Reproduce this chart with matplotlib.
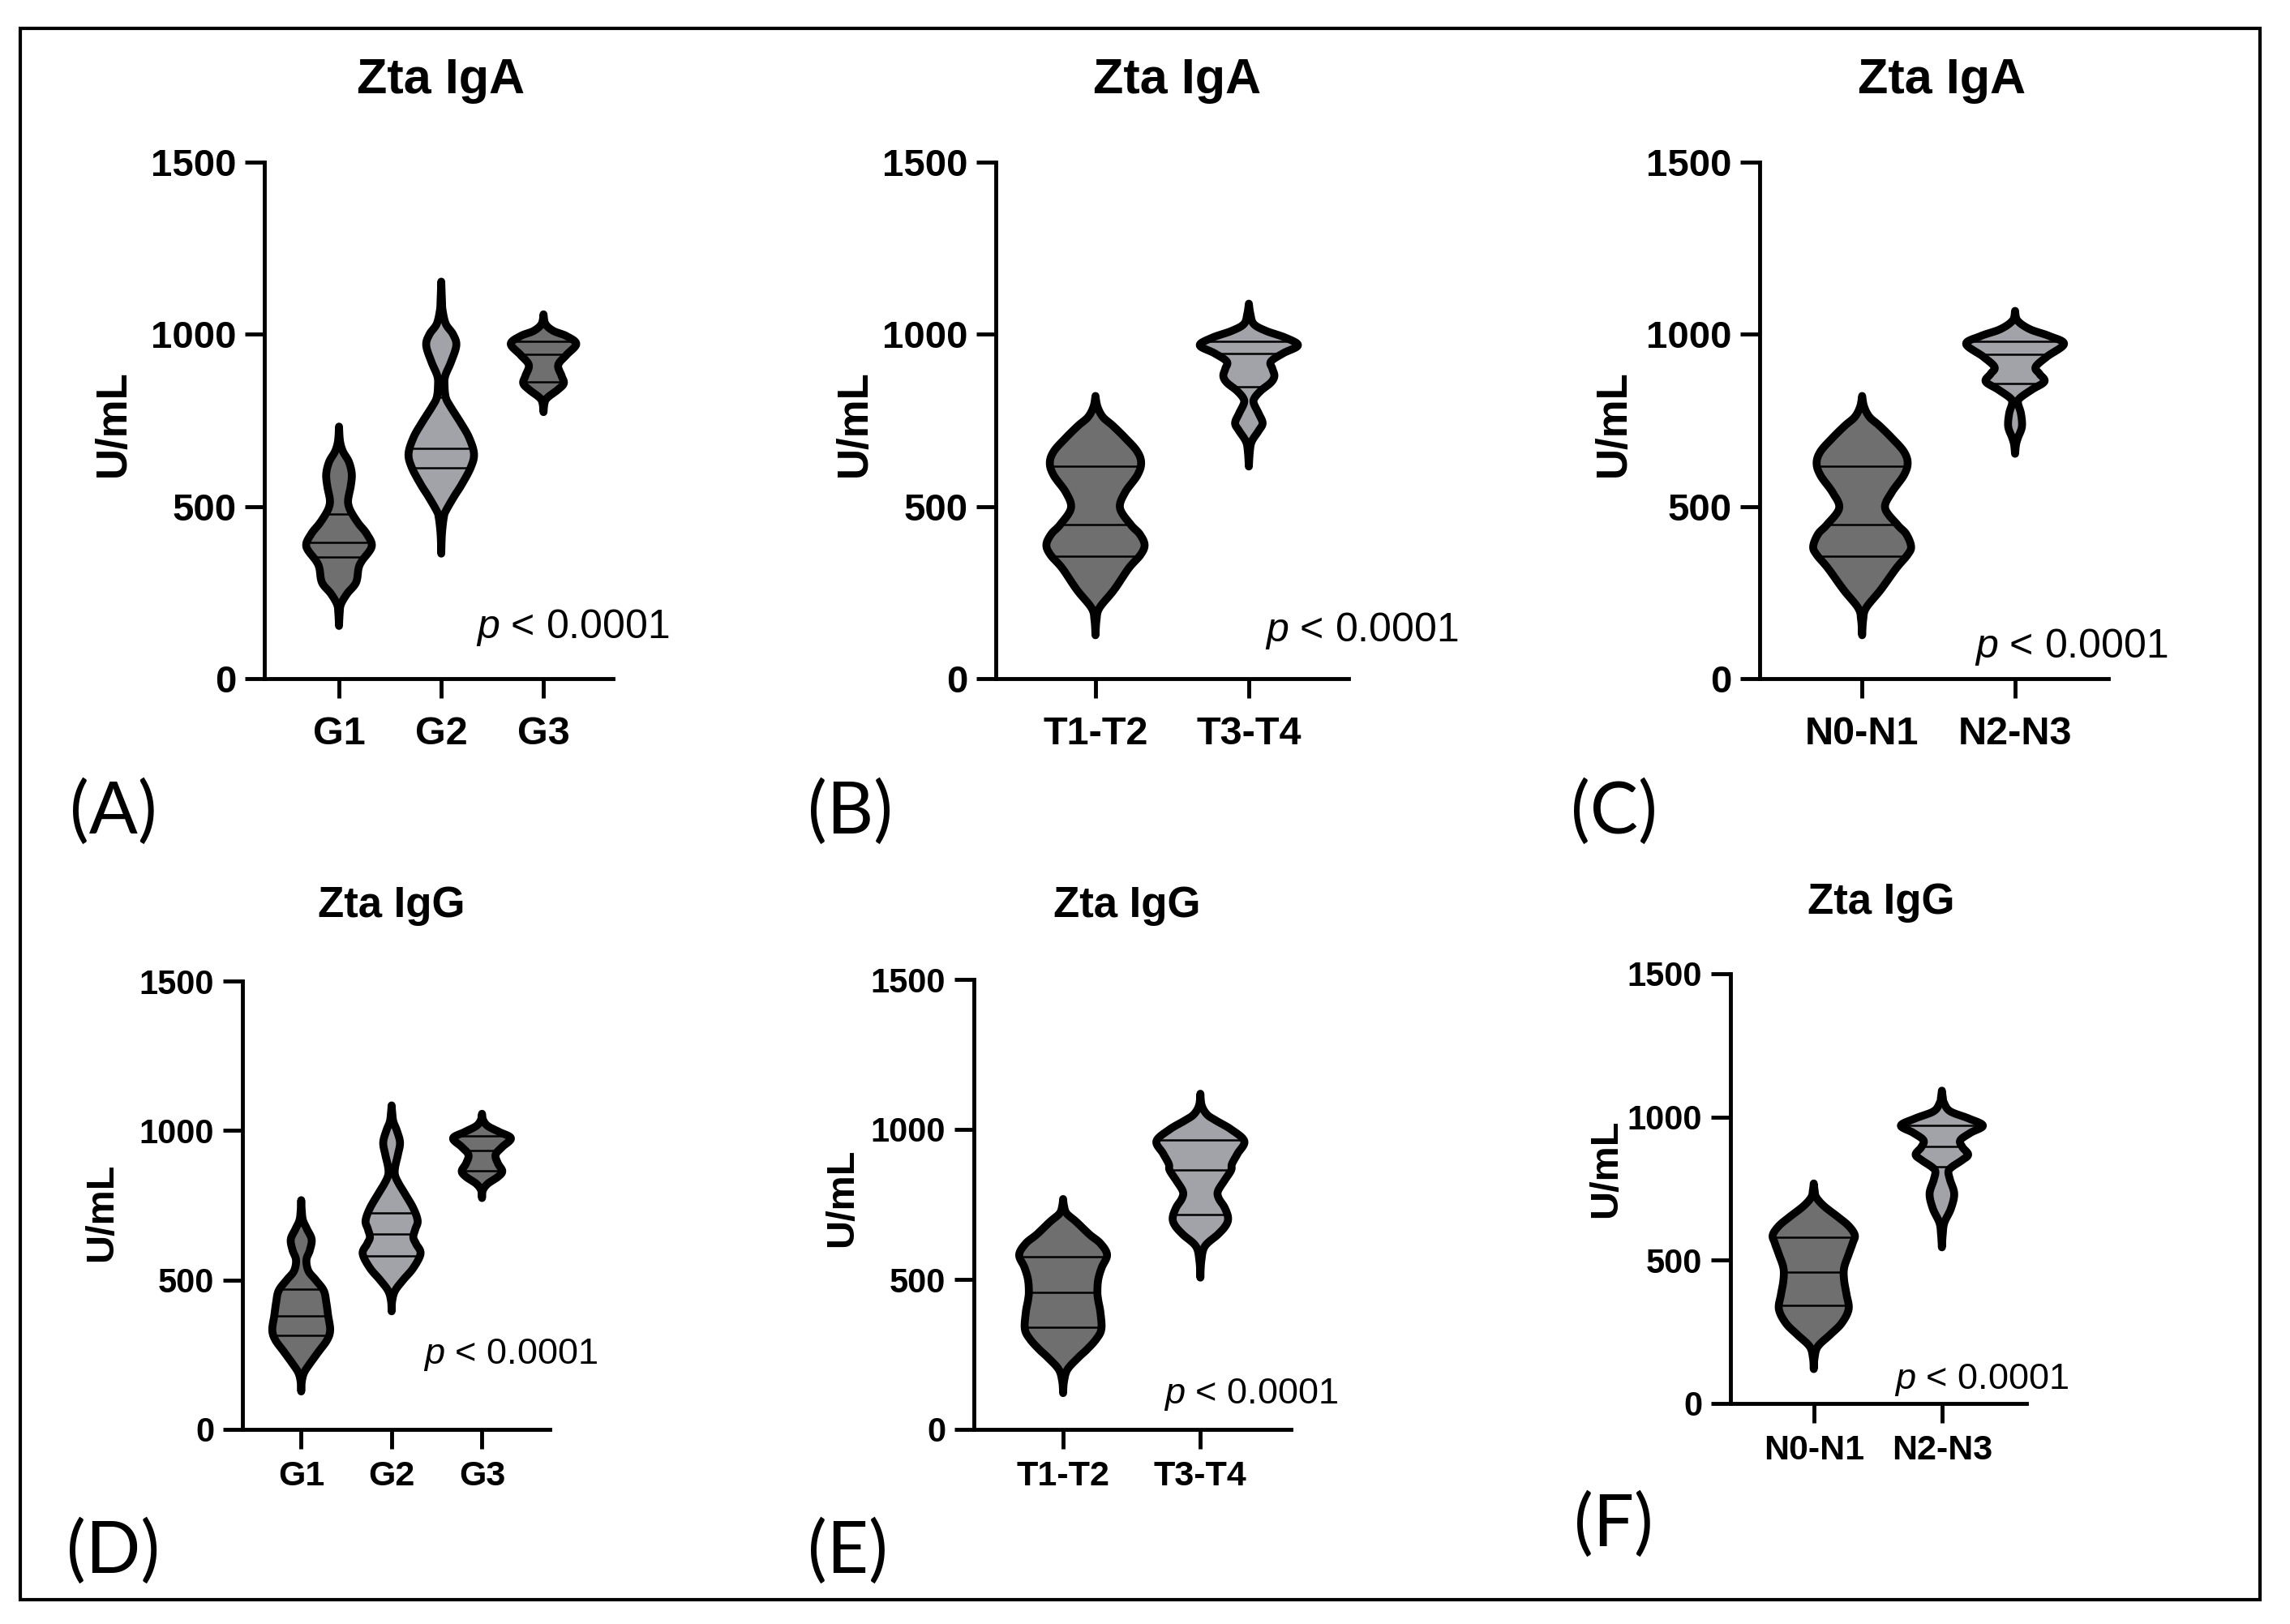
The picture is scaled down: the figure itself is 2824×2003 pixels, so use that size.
import numpy as np
import matplotlib
matplotlib.use("Agg")
import matplotlib.pyplot as plt
from matplotlib.patches import Rectangle

plt.rcParams['font.family'] = ['Liberation Sans', 'DejaVu Sans']
plt.rcParams['mathtext.fontset'] = 'custom'
plt.rcParams['mathtext.rm'] = 'Liberation Sans'
plt.rcParams['mathtext.it'] = 'Liberation Sans:italic'

# ---------------- data (violin outlines) ----------------
# each violin: list of (value U/mL, relative half width), plus quartile lines
grades = ['G1', 'G2', 'G3']
t_stage = ['T1-T2', 'T3-T4']
n_stage = ['N0-N1', 'N2-N3']
yticks = [0, 500, 1000, 1500]

# (A) Zta IgA by grade
A_G1 = [(153, 0), (190, .02), (216, .06), (247, .25), (279, .52), (321, .6), (342, .7), (384, 1.0),
        (420, .85), (450, .6), (479, .4), (500, .3), (521, .28), (560, .36), (595, .39), (630, .3),
        (660, .12), (690, .03), (732, 0)]
A_G2 = [(363, 0), (420, .02), (470, .08), (489, .15), (530, .4), (563, .62), (613, .9), (653, 1.0),
        (700, .85), (742, .6), (790, .28), (816, .14), (850, .1), (879, .12), (920, .3), (968, .46),
        (1000, .36), (1030, .14), (1070, .04), (1100, .02), (1153, 0)]
A_G3 = [(774, 0), (800, .03), (816, .12), (840, .45), (858, .62), (880, .55), (911, .45), (940, .7),
        (972, 1.0), (995, .7), (1010, .3), (1030, .06), (1058, 0)]
A_quart = [[353, 395, 479], [613, 668, 816], [863, 942, 979]]

# (B) Zta IgA by T stage
B_T12 = [(126, 0), (170, .02), (205, .08), (258, .38), (321, .68), (360, .92), (389, 1.0), (420, .9),
         (447, .72), (495, .5), (540, .6), (590, .85), (626, .93), (660, .85), (700, .6), (735, .35),
         (760, .15), (790, .04), (821, 0)]
B_T34 = [(616, 0), (660, .02), (689, .06), (720, .2), (742, .28), (770, .2), (800, .1), (816, .12),
         (837, .25), (860, .45), (879, .52), (900, .48), (921, .45), (945, .7), (968, 1.0), (990, .75),
         (1010, .35), (1030, .1), (1060, .03), (1089, 0)]
B_quart = [[356, 447, 618], [847, 945, 979]]

# (C) Zta IgA by N stage
C_N01 = [(126, 0), (170, .02), (205, .08), (258, .38), (321, .7), (360, .93), (384, 1.0), (420, .9),
         (447, .72), (495, .47), (540, .6), (590, .85), (626, .93), (660, .85), (700, .6), (735, .35),
         (760, .15), (790, .04), (821, 0)]
C_N23 = [(653, 0), (680, .02), (700, .06), (732, .14), (770, .12), (800, .06), (815, .1), (840, .35),
         (863, .6), (885, .5), (905, .42), (935, .65), (972, 1.0), (995, .7), (1015, .3), (1040, .05),
         (1068, 0)]
C_quart = [[356, 447, 618], [858, 942, 979]]

# (D) Zta IgG by grade
D_G1 = [(127, 0), (160, .02), (190, .1), (220, .3), (260, .6), (300, .9), (333, 1.0), (381, .93),
        (423, .87), (464, .78), (500, .5), (530, .25), (567, .18), (600, .3), (636, .36), (670, .2),
        (700, .06), (730, .02), (767, 0)]
D_G2 = [(395, 0), (430, .02), (464, .12), (500, .4), (540, .75), (588, 1.0), (620, .85), (643, .75),
        (670, .82), (698, .9), (740, .75), (790, .45), (822, .25), (850, .12), (877, .12), (920, .22),
        (960, .29), (1000, .18), (1030, .06), (1060, .02), (1084, 0)]
D_G3 = [(774, 0), (800, .03), (822, .2), (845, .55), (864, .7), (890, .55), (919, .47), (945, .7),
        (974, 1.0), (995, .6), (1015, .2), (1035, .04), (1056, 0)]
D_quart = [[315, 381, 468], [581, 653, 723], [866, 932, 981]]

# (E) Zta IgG by T stage
E_T12 = [(121, 0), (160, .02), (200, .1), (240, .35), (266, .54), (300, .75), (334, .87), (389, .85),
         (430, .8), (458, .78), (500, .8), (540, .88), (582, 1.0), (620, .85), (650, .6), (692, .3),
         (720, .08), (745, .02), (768, 0)]
E_T34 = [(506, 0), (560, .02), (610, .1), (650, .4), (680, .58), (706, .63), (740, .55), (770, .42),
         (794, .4), (830, .55), (864, .7), (885, .72), (920, .85), (961, 1.0), (1000, .7), (1030, .35),
         (1050, .15), (1080, .03), (1119, 0)]
E_quart = [[341, 458, 575], [717, 864, 965]]

# (F) Zta IgG by N stage
F_N01 = [(120, 0), (160, .02), (199, .1), (240, .4), (280, .68), (329, .85), (380, .8), (430, .74),
         (473, .74), (520, .85), (560, .95), (588, 1.0), (620, .85), (650, .6), (689, .25), (720, .06),
         (745, .02), (768, 0)]
F_N23 = [(545, 0), (590, .02), (631, .06), (680, .22), (732, .3), (780, .2), (810, .16), (826, .25),
         (850, .5), (869, .64), (895, .5), (919, .45), (945, .7), (970, 1.0), (995, .65), (1020, .2),
         (1050, .05), (1070, .02), (1092, 0)]
F_quart = [[343, 458, 581], [827, 898, 970]]

DARK = '#6f6f6f'
LIGHT = '#a2a2a9'
HW = 0.32  # max half width of a violin in category units

W, H = 2824, 2003


def px(x, y):
    # pixel position of the reference -> figure fraction
    return x / W, 1 - y / H


def smooth(pts, n=14):
    # catmull-rom through the read points, only to draw a round outline
    pts = np.asarray(pts, dtype=float)
    pts = np.vstack([pts[0], pts, pts[-1]])
    out = []
    t = np.linspace(0, 1, n, endpoint=False)[:, None]
    for i in range(1, len(pts) - 2):
        p0, p1, p2, p3 = pts[i - 1], pts[i], pts[i + 1], pts[i + 2]
        out.append(0.5 * (2 * p1 + (-p0 + p2) * t + (2 * p0 - 5 * p1 + 4 * p2 - p3) * t ** 2
                          + (-p0 + 3 * p1 - 3 * p2 + p3) * t ** 3))
    out.append(pts[-2][None])
    return np.vstack(out)


def violin(ax, c, prof, quart, color):
    s = smooth(prof)
    yy = s[:, 0]
    ww = np.clip(s[:, 1], 0, None)
    xs = np.concatenate([c - ww * HW, (c + ww * HW)[::-1]])
    ys = np.concatenate([yy, yy[::-1]])
    ax.fill(xs, ys, facecolor=color, edgecolor='black', lw=7, joinstyle='round', zorder=3)
    order = np.argsort(yy)
    for q in quart:
        wq = np.interp(q, yy[order], ww[order]) * HW
        ax.plot([c - wq, c + wq], [q, q], color='black', lw=1.8, zorder=4)


def panel(box, xlim, cats, profs, quarts, title, title_xy, ylab_xy, letter, letter_xy,
          p_xy, fs):
    ytick_fs, xtick_fs, title_fs, lab_fs, p_fs, xpad = fs
    left, right, top, bottom = box
    ax = fig.add_axes([left / W, 1 - bottom / H, (right - left) / W, (bottom - top) / H])
    colors = [DARK, LIGHT, DARK]
    for i, (prof, q) in enumerate(zip(profs, quarts)):
        violin(ax, i, prof, q, colors[i])
    ax.set_xlim(xlim)
    ax.set_ylim(0, 1500)
    ax.set_xticks(range(len(cats)))
    ax.set_xticklabels(cats, fontsize=xtick_fs, fontweight='bold')
    ax.set_yticks(yticks)
    ax.set_yticklabels([str(v) for v in yticks], fontsize=ytick_fs, fontweight='bold')
    for side in ['top', 'right']:
        ax.spines[side].set_visible(False)
    for side in ['left', 'bottom']:
        ax.spines[side].set_linewidth(3.5)
    ax.tick_params(axis='both', direction='out', length=17, width=3.5)
    ax.tick_params(axis='y', pad=8)
    ax.tick_params(axis='x', pad=xpad)
    ax.patch.set_alpha(0)

    fig.text(*px(*title_xy), title, fontsize=title_fs, fontweight='bold', ha='center', va='center')
    fig.text(*px(*ylab_xy), 'U/mL', fontsize=lab_fs, fontweight='bold', rotation=90,
             ha='center', va='center')
    fig.text(*px(*letter_xy), letter, fontsize=64, family=['Lato', 'DejaVu Sans'],
             ha='center', va='center')
    fig.text(*px(*p_xy), r'$\it{p}$ < 0.0001', fontsize=p_fs, ha='left', va='center')
    return ax


fig = plt.figure(figsize=(W / 100, H / 100), dpi=100)

# outer frame
fig.patches.append(Rectangle(px(25, 1973), (2787 - 25) / W, (1973 - 35) / H, transform=fig.transFigure,
                             fill=False, edgecolor='black', lw=3))

top_fs = (34, 35, 44, 38, 36, 16)
bot_fs = (30, 31, 38, 35, 32.5, 10)

panel((326, 756, 200, 837), (-0.73, 2.68), grades, [A_G1, A_G2, A_G3], A_quart,
      'Zta IgA', (544, 99), (140, 522), '(A)', (140, 1003), (587, 774), top_fs)
panel((1228, 1663, 200, 837), (-0.65, 1.65), t_stage, [B_T12, B_T34], B_quart,
      'Zta IgA', (1452, 99), (1054, 522), '(B)', (1048, 1003), (1560, 778), top_fs)
panel((2170, 2600, 200, 837), (-0.67, 1.61), n_stage, [C_N01, C_N23], C_quart,
      'Zta IgA', (2395, 99), (1990, 522), '(C)', (1990, 1003), (2435, 798), top_fs)
panel((299, 678, 1210, 1763), (-0.65, 2.75), grades, [D_G1, D_G2, D_G3], D_quart,
      'Zta IgG', (483, 1117), (126, 1495), '(D)', (140, 1915), (522, 1671), bot_fs)
panel((1201, 1592, 1208, 1763), (-0.65, 1.66), t_stage, [E_T12, E_T34], E_quart,
      'Zta IgG', (1390, 1117), (1039, 1477), '(E)', (1045, 1915), (1435, 1720), bot_fs)
panel((2134, 2499, 1201, 1731), (-0.65, 1.66), n_stage, [F_N01, F_N23], F_quart,
      'Zta IgG', (2320, 1113), (1981, 1441), '(F)', (1990, 1882), (2336, 1702), bot_fs)

fig.savefig('out.png', dpi=100)
